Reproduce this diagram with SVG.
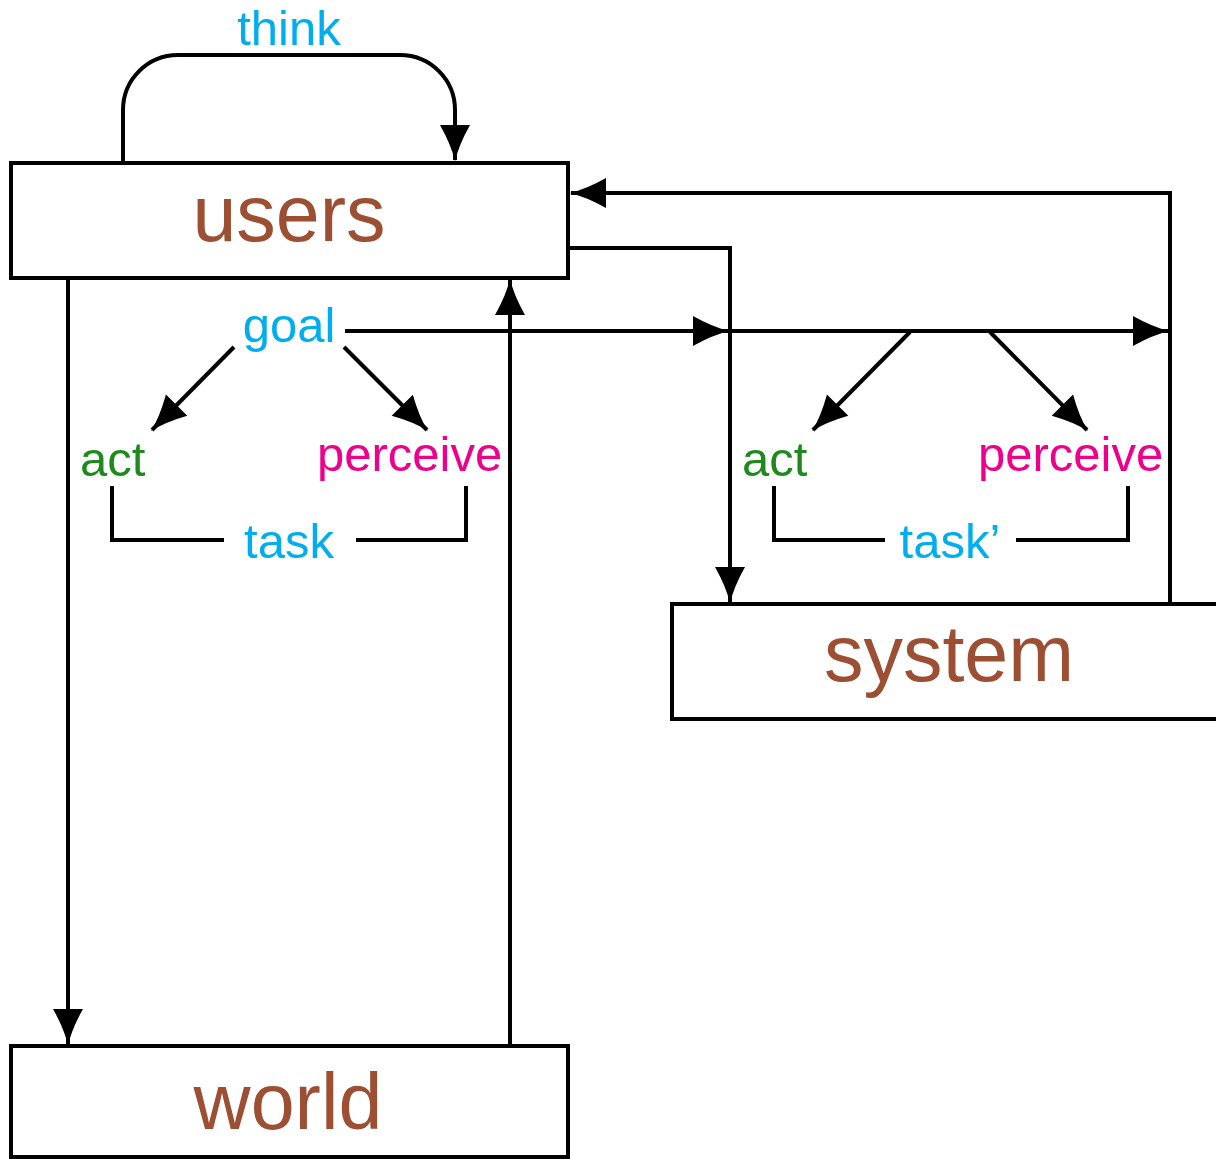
<svg xmlns="http://www.w3.org/2000/svg" width="1216" height="1159" viewBox="0 0 1216 1159">
  <style>
    .box { fill: #fff; stroke: #000; stroke-width: 4; }
    .edge { fill: none; stroke: #000; stroke-width: 4; }
    .big { font-family: "Liberation Sans", Arial, sans-serif; font-size: 79px; fill: #9C4F33; text-anchor: middle; }
    .lbl { font-family: "Liberation Sans", Arial, sans-serif; font-size: 49px; }
    .blue { fill: #00AEEF; }
    .green { fill: #1E8A1E; }
    .pink { fill: #EC008C; }
  </style>
  <defs>
    <marker id="head" markerUnits="userSpaceOnUse" markerWidth="40" markerHeight="40" viewBox="-30 -15 32 30" refX="0" refY="0" orient="auto" overflow="visible">
      <path d="M 1 0 Q -12 -3 -28 -12 L -28 12 Q -12 3 1 0 Z" fill="#000"/>
    </marker>
  </defs>

  <!-- nodes -->
  <g id="users">
    <rect class="box" x="11" y="163" width="557" height="115"/>
    <text class="big" x="289" y="241">users</text>
  </g>
  <g id="system">
    <rect class="box" x="672" y="604" width="560" height="115"/>
    <text class="big" x="949" y="681">system</text>
  </g>
  <g id="world">
    <rect class="box" x="11" y="1046" width="557" height="111"/>
    <text class="big" x="288" y="1129">world</text>
  </g>

  <!-- labels -->
  <g id="labels">
    <text class="lbl blue" x="289" y="45" text-anchor="middle">think</text>
    <text class="lbl blue" x="289" y="342" text-anchor="middle">goal</text>
    <text class="lbl green" x="80" y="476">act</text>
    <text class="lbl pink" x="317" y="471">perceive</text>
    <text class="lbl blue" x="289" y="558" text-anchor="middle">task</text>
    <text class="lbl green" x="742" y="476">act</text>
    <text class="lbl pink" x="978" y="471">perceive</text>
    <text class="lbl blue" x="950" y="558" text-anchor="middle">task’</text>
  </g>

  <!-- connectors -->
  <g id="connectors">
    <!-- think loop on users -->
    <path class="edge" d="M 123 163 V 110 A 55 55 0 0 1 178 55 H 400 A 55 55 0 0 1 455 110 V 160" marker-end="url(#head)"/>
    <!-- users to world and back -->
    <path class="edge" d="M 68 278 V 1044" marker-end="url(#head)"/>
    <path class="edge" d="M 510 1046 V 280" marker-end="url(#head)"/>
    <!-- users to system and back -->
    <path class="edge" d="M 568 248 H 730 V 602" marker-end="url(#head)"/>
    <path class="edge" d="M 1170 604 V 193 H 571" marker-end="url(#head)"/>
    <!-- goal line -->
    <path class="edge" d="M 345 331 H 728" marker-end="url(#head)"/>
    <path class="edge" d="M 730 331 H 1168" marker-end="url(#head)"/>
    <!-- goal split, left -->
    <path class="edge" d="M 234 347 L 152 430" marker-end="url(#head)"/>
    <path class="edge" d="M 344 347 L 427 430" marker-end="url(#head)"/>
    <!-- goal split, right -->
    <path class="edge" d="M 910 332 L 813 430" marker-end="url(#head)"/>
    <path class="edge" d="M 990 332 L 1087 430" marker-end="url(#head)"/>
    <!-- task brackets -->
    <path class="edge" d="M 112 486 V 540 H 224"/>
    <path class="edge" d="M 356 540 H 466 V 486"/>
    <path class="edge" d="M 774 486 V 540 H 885"/>
    <path class="edge" d="M 1016 540 H 1128 V 486"/>
  </g>
</svg>
